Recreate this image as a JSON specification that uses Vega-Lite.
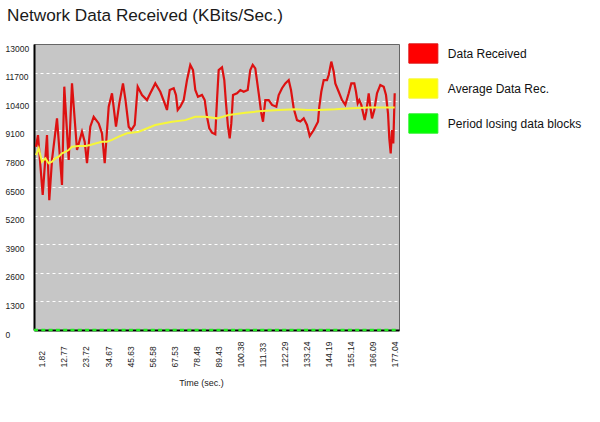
{
  "$schema": "https://vega.github.io/schema/vega-lite/v6.json",
  "width": 365,
  "height": 286,
  "autosize": {"type": "none"},
  "padding": {"left": 34, "top": 44, "right": 201, "bottom": 92},
  "background": "white",
  "title": {"text": "Network Data Received (KBits/Sec.)", "anchor": "start", "frame": "group", "dx": -27, "offset": 5, "baseline": "alphabetic", "fontSize": 17.2, "font": "Liberation Sans", "fontWeight": "normal", "color": "#1a1a1a"},
  "config": {"view": {"fill": "#c6c6c6", "stroke": "#666666", "strokeWidth": 1}, "font": "Liberation Sans"},
  "datasets": {
    "lines": [
      {"series": "Data Received", "t": -1.17, "v": 8330},
      {"series": "Data Received", "t": -0.17, "v": 8860},
      {"series": "Data Received", "t": 2.17, "v": 6140},
      {"series": "Data Received", "t": 4.31, "v": 8860},
      {"series": "Data Received", "t": 5.45, "v": 5900},
      {"series": "Data Received", "t": 6.8, "v": 7730},
      {"series": "Data Received", "t": 9.29, "v": 9620},
      {"series": "Data Received", "t": 11.77, "v": 6590},
      {"series": "Data Received", "t": 12.92, "v": 11060},
      {"series": "Data Received", "t": 15.11, "v": 7730},
      {"series": "Data Received", "t": 16.75, "v": 11210},
      {"series": "Data Received", "t": 19.24, "v": 8180},
      {"series": "Data Received", "t": 21.73, "v": 9010},
      {"series": "Data Received", "t": 23.07, "v": 8560},
      {"series": "Data Received", "t": 24.22, "v": 7580},
      {"series": "Data Received", "t": 25.86, "v": 9240},
      {"series": "Data Received", "t": 27.55, "v": 9690},
      {"series": "Data Received", "t": 30.04, "v": 9390},
      {"series": "Data Received", "t": 31.68, "v": 8940},
      {"series": "Data Received", "t": 33.03, "v": 7580},
      {"series": "Data Received", "t": 35.02, "v": 10150},
      {"series": "Data Received", "t": 36.66, "v": 10760},
      {"series": "Data Received", "t": 38.65, "v": 9240},
      {"series": "Data Received", "t": 40.29, "v": 10300},
      {"series": "Data Received", "t": 42.13, "v": 11210},
      {"series": "Data Received", "t": 43.38, "v": 10450},
      {"series": "Data Received", "t": 44.97, "v": 9240},
      {"series": "Data Received", "t": 46.26, "v": 9090},
      {"series": "Data Received", "t": 47.96, "v": 9320},
      {"series": "Data Received", "t": 49.45, "v": 11060},
      {"series": "Data Received", "t": 51.59, "v": 10680},
      {"series": "Data Received", "t": 54.08, "v": 10450},
      {"series": "Data Received", "t": 55.72, "v": 10760},
      {"series": "Data Received", "t": 58.21, "v": 11210},
      {"series": "Data Received", "t": 60.7, "v": 10830},
      {"series": "Data Received", "t": 62.89, "v": 10300},
      {"series": "Data Received", "t": 64.03, "v": 10000},
      {"series": "Data Received", "t": 65.38, "v": 10910},
      {"series": "Data Received", "t": 67.37, "v": 10990},
      {"series": "Data Received", "t": 68.51, "v": 10680},
      {"series": "Data Received", "t": 69.36, "v": 10000},
      {"series": "Data Received", "t": 70.65, "v": 10150},
      {"series": "Data Received", "t": 72.34, "v": 10450},
      {"series": "Data Received", "t": 73.99, "v": 11360},
      {"series": "Data Received", "t": 75.63, "v": 12050},
      {"series": "Data Received", "t": 76.97, "v": 11820},
      {"series": "Data Received", "t": 78.12, "v": 10910},
      {"series": "Data Received", "t": 79.46, "v": 10600},
      {"series": "Data Received", "t": 81.45, "v": 10680},
      {"series": "Data Received", "t": 82.8, "v": 10450},
      {"series": "Data Received", "t": 83.94, "v": 9690},
      {"series": "Data Received", "t": 85.09, "v": 9170},
      {"series": "Data Received", "t": 86.43, "v": 8970},
      {"series": "Data Received", "t": 88.07, "v": 8900},
      {"series": "Data Received", "t": 88.92, "v": 10450},
      {"series": "Data Received", "t": 89.76, "v": 11820},
      {"series": "Data Received", "t": 91.41, "v": 11940},
      {"series": "Data Received", "t": 92.55, "v": 11360},
      {"series": "Data Received", "t": 93.4, "v": 10300},
      {"series": "Data Received", "t": 94.39, "v": 9240},
      {"series": "Data Received", "t": 95.24, "v": 8710},
      {"series": "Data Received", "t": 96.04, "v": 9390},
      {"series": "Data Received", "t": 96.88, "v": 10680},
      {"series": "Data Received", "t": 98.87, "v": 10760},
      {"series": "Data Received", "t": 100.52, "v": 10910},
      {"series": "Data Received", "t": 102.21, "v": 10830},
      {"series": "Data Received", "t": 104.2, "v": 10910},
      {"series": "Data Received", "t": 105.49, "v": 11820},
      {"series": "Data Received", "t": 106.69, "v": 12050},
      {"series": "Data Received", "t": 107.98, "v": 11890},
      {"series": "Data Received", "t": 109.68, "v": 10760},
      {"series": "Data Received", "t": 110.97, "v": 9850},
      {"series": "Data Received", "t": 111.82, "v": 9470},
      {"series": "Data Received", "t": 112.96, "v": 10450},
      {"series": "Data Received", "t": 114.65, "v": 10450},
      {"series": "Data Received", "t": 116.3, "v": 10230},
      {"series": "Data Received", "t": 118.44, "v": 10150},
      {"series": "Data Received", "t": 119.63, "v": 10680},
      {"series": "Data Received", "t": 121.27, "v": 10990},
      {"series": "Data Received", "t": 122.91, "v": 11210},
      {"series": "Data Received", "t": 124.61, "v": 11360},
      {"series": "Data Received", "t": 125.75, "v": 10910},
      {"series": "Data Received", "t": 127.09, "v": 10080},
      {"series": "Data Received", "t": 128.73, "v": 9540},
      {"series": "Data Received", "t": 130.38, "v": 9480},
      {"series": "Data Received", "t": 132.07, "v": 9620},
      {"series": "Data Received", "t": 133.71, "v": 9320},
      {"series": "Data Received", "t": 135.06, "v": 8820},
      {"series": "Data Received", "t": 137.05, "v": 9090},
      {"series": "Data Received", "t": 139.19, "v": 9470},
      {"series": "Data Received", "t": 139.84, "v": 10150},
      {"series": "Data Received", "t": 140.83, "v": 10830},
      {"series": "Data Received", "t": 142.03, "v": 11360},
      {"series": "Data Received", "t": 143.67, "v": 11360},
      {"series": "Data Received", "t": 144.52, "v": 11590},
      {"series": "Data Received", "t": 145.81, "v": 12200},
      {"series": "Data Received", "t": 147.01, "v": 11740},
      {"series": "Data Received", "t": 147.8, "v": 11210},
      {"series": "Data Received", "t": 149.49, "v": 10830},
      {"series": "Data Received", "t": 151.14, "v": 10450},
      {"series": "Data Received", "t": 152.78, "v": 10230},
      {"series": "Data Received", "t": 154.47, "v": 10760},
      {"series": "Data Received", "t": 155.76, "v": 11210},
      {"series": "Data Received", "t": 157.26, "v": 11210},
      {"series": "Data Received", "t": 158.1, "v": 10830},
      {"series": "Data Received", "t": 158.95, "v": 10300},
      {"series": "Data Received", "t": 159.74, "v": 10450},
      {"series": "Data Received", "t": 160.74, "v": 10230},
      {"series": "Data Received", "t": 162.43, "v": 9540},
      {"series": "Data Received", "t": 163.23, "v": 9920},
      {"series": "Data Received", "t": 164.42, "v": 10760},
      {"series": "Data Received", "t": 165.22, "v": 10150},
      {"series": "Data Received", "t": 166.06, "v": 9620},
      {"series": "Data Received", "t": 167.21, "v": 10000},
      {"series": "Data Received", "t": 168.55, "v": 10760},
      {"series": "Data Received", "t": 170.2, "v": 11140},
      {"series": "Data Received", "t": 171.89, "v": 11060},
      {"series": "Data Received", "t": 173.03, "v": 10680},
      {"series": "Data Received", "t": 174.03, "v": 9850},
      {"series": "Data Received", "t": 174.67, "v": 8710},
      {"series": "Data Received", "t": 175.37, "v": 8030},
      {"series": "Data Received", "t": 176.02, "v": 9090},
      {"series": "Data Received", "t": 176.66, "v": 8480},
      {"series": "Data Received", "t": 177.36, "v": 10760},
      {"series": "Average Data Rec.", "t": -1.17, "v": 7950},
      {"series": "Average Data Rec.", "t": 0.18, "v": 8260},
      {"series": "Average Data Rec.", "t": 1.82, "v": 7650},
      {"series": "Average Data Rec.", "t": 3.46, "v": 7800},
      {"series": "Average Data Rec.", "t": 5.15, "v": 7580},
      {"series": "Average Data Rec.", "t": 6.8, "v": 7650},
      {"series": "Average Data Rec.", "t": 8.44, "v": 7800},
      {"series": "Average Data Rec.", "t": 10.13, "v": 7880},
      {"series": "Average Data Rec.", "t": 11.77, "v": 8030},
      {"series": "Average Data Rec.", "t": 13.42, "v": 8100},
      {"series": "Average Data Rec.", "t": 15.11, "v": 8180},
      {"series": "Average Data Rec.", "t": 16.75, "v": 8330},
      {"series": "Average Data Rec.", "t": 20.09, "v": 8360},
      {"series": "Average Data Rec.", "t": 23.37, "v": 8360},
      {"series": "Average Data Rec.", "t": 25.86, "v": 8410},
      {"series": "Average Data Rec.", "t": 28.35, "v": 8480},
      {"series": "Average Data Rec.", "t": 31.68, "v": 8560},
      {"series": "Average Data Rec.", "t": 34.17, "v": 8560},
      {"series": "Average Data Rec.", "t": 36.66, "v": 8640},
      {"series": "Average Data Rec.", "t": 39.99, "v": 8790},
      {"series": "Average Data Rec.", "t": 44.12, "v": 8940},
      {"series": "Average Data Rec.", "t": 49.95, "v": 9010},
      {"series": "Average Data Rec.", "t": 58.21, "v": 9320},
      {"series": "Average Data Rec.", "t": 66.52, "v": 9470},
      {"series": "Average Data Rec.", "t": 73.14, "v": 9540},
      {"series": "Average Data Rec.", "t": 78.12, "v": 9690},
      {"series": "Average Data Rec.", "t": 83.1, "v": 9690},
      {"series": "Average Data Rec.", "t": 88.92, "v": 9620},
      {"series": "Average Data Rec.", "t": 94.74, "v": 9770},
      {"series": "Average Data Rec.", "t": 103.01, "v": 9880},
      {"series": "Average Data Rec.", "t": 111.32, "v": 9950},
      {"series": "Average Data Rec.", "t": 119.63, "v": 10000},
      {"series": "Average Data Rec.", "t": 127.89, "v": 10030},
      {"series": "Average Data Rec.", "t": 133.71, "v": 10000},
      {"series": "Average Data Rec.", "t": 139.54, "v": 10000},
      {"series": "Average Data Rec.", "t": 147.8, "v": 10030},
      {"series": "Average Data Rec.", "t": 156.11, "v": 10080},
      {"series": "Average Data Rec.", "t": 164.42, "v": 10110},
      {"series": "Average Data Rec.", "t": 177.36, "v": 10110},
      {"series": "Period losing data blocks", "t": -2.16, "v": 0},
      {"series": "Period losing data blocks", "t": 179.5, "v": 0}
    ]
  },
  "data": {"name": "lines"},
  "encoding": {
    "x": {
      "field": "t", "type": "quantitative",
      "scale": {"domain": [-2.16, 179.5], "nice": false, "zero": false},
      "axis": {
        "values": [1.82, 12.77, 23.72, 34.67, 45.63, 56.58, 67.53, 78.48, 89.43, 100.38, 111.33, 122.29, 133.24, 144.19, 155.14, 166.09, 177.04],
        "format": ".2f",
        "title": "Time (sec.)",
        "titleFontSize": 9, "titleFontWeight": "normal", "titleColor": "#222",
        "titleX": 167, "titleY": 52, "titleAlign": "center", "titleBaseline": "middle",
        "grid": false, "ticks": false, "tickSize": 0,
        "labelAngle": 270, "labelAlign": "left", "labelBaseline": "middle", "labelPadding": 37,
        "labelFontSize": 8.5, "labelColor": "#222", "labelOverlap": false, "labelFlush": false,
        "domainColor": "#000000", "domainWidth": 2
      }
    },
    "y": {
      "field": "v", "type": "quantitative",
      "scale": {"domain": [0, 13000], "nice": false},
      "axis": {
        "values": [0, 1300, 2600, 3900, 5200, 6500, 7800, 9100, 10400, 11700, 13000],
        "format": "d",
        "title": null, "ticks": false, "tickSize": 0,
        "labelAlign": "left", "labelBaseline": "middle", "labelPadding": 29, "labelOffset": 4,
        "labelFontSize": 8.5, "labelColor": "#222", "labelOverlap": false, "labelFlush": false,
        "grid": true, "gridColor": "#ffffff", "gridDash": [3, 3], "gridWidth": 1,
        "gridOpacity": {"condition": {"test": "datum.value === 0 || datum.value === 13000", "value": 0}, "value": 1},
        "domainColor": "#000000", "domainWidth": 2
      }
    },
    "color": {
      "field": "series", "type": "nominal",
      "scale": {"domain": ["Data Received", "Average Data Rec.", "Period losing data blocks"], "range": ["#dd1111", "#f6f63a", "#22ee22"]},
      "legend": {
        "orient": "none", "legendX": 378.85, "legendY": -1, "title": null,
        "symbolType": "M-1.5,-1H1.5V1H-1.5Z", "symbolSize": 374, "symbolStrokeWidth": 1,
        "labelFontSize": 12, "labelOffset": 14, "rowPadding": 10, "labelColor": "#111", "labelLimit": 300,
        "encode": {"symbols": {"update": {
          "fill": {"signal": "datum.value === 'Data Received' ? '#ff0000' : datum.value === 'Average Data Rec.' ? '#ffff00' : '#00ff00'"},
          "stroke": {"value": "#444444"},
          "fillOpacity": {"value": 1}
        }}}
      }
    }
  },
  "layer": [
    {"transform": [{"filter": "datum.series === 'Data Received'"}], "mark": {"type": "line", "strokeWidth": 2.2}},
    {"transform": [{"filter": "datum.series === 'Average Data Rec.'"}], "mark": {"type": "line", "strokeWidth": 2}},
    {"transform": [{"filter": "datum.series === 'Period losing data blocks'"}], "mark": {"type": "line", "strokeWidth": 2.5, "strokeDash": [4, 3.3]}}
  ]
}
